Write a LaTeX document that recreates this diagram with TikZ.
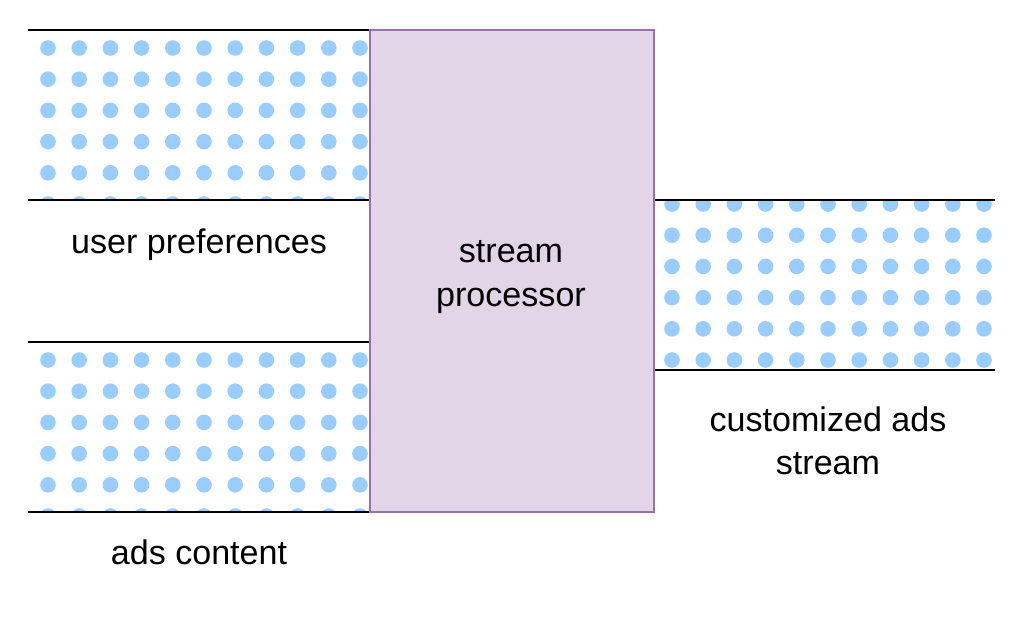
\documentclass[tikz,border=0pt]{standalone}
\usepackage{fontspec}
\setmainfont{Liberation Sans}
\definecolor{dotblue}{HTML}{99CCFF}
\definecolor{procfill}{HTML}{E1D5E7}
\definecolor{procdraw}{HTML}{9673A6}

\begin{document}
\begin{tikzpicture}[x=0.02cm, y=-0.02cm,
    edge/.style={line width=1.4pt, black},
    lbl/.style={font=\fontsize{19.4}{24.5}\selectfont, align=center, inner sep=0pt}]
  \useasboundingbox (0,0) rectangle (1024,627);

  % Dotted streams (one dot grid, clipped to each band)
  \begin{scope}
    \clip (28,30) rectangle (370,200);
    \foreach \i in {0,...,10} {
      \foreach \j in {0,...,5} {
        \fill[dotblue] (48+31.2*\i, 48+31.2*\j) circle[radius=0.156cm];
      }
    }
  \end{scope}
  \begin{scope}
    \clip (28,342) rectangle (370,512);
    \foreach \i in {0,...,10} {
      \foreach \j in {10,...,15} {
        \fill[dotblue] (48+31.2*\i, 48+31.2*\j) circle[radius=0.156cm];
      }
    }
  \end{scope}
  \begin{scope}
    \clip (654,200) rectangle (995,370);
    \foreach \i in {20,...,30} {
      \foreach \j in {5,...,10} {
        \fill[dotblue] (48+31.2*\i, 48+31.2*\j) circle[radius=0.156cm];
      }
    }
  \end{scope}

  % Stream borders
  \draw[edge] (28,30) -- (370,30);
  \draw[edge] (28,200) -- (370,200);
  \draw[edge] (28,342) -- (370,342);
  \draw[edge] (28,512) -- (370,512);
  \draw[edge] (654,200) -- (995,200);
  \draw[edge] (654,370) -- (995,370);

  % Processor
  \node[draw=procdraw, fill=procfill, line width=1.4pt, outer sep=0pt, inner sep=0pt,
        minimum width=5.68cm, minimum height=9.64cm] (proc) at (512,271) {};
  \node[lbl] (procname) at (511,277) {stream\\processor};

  % Labels
  \node[lbl] (prefs) at (199,245) {user preferences};
  \node[lbl] (ads) at (199,552) {ads content};
  \node[lbl] (out) at (828,441) {customized ads\\stream};

\end{tikzpicture}
\end{document}
